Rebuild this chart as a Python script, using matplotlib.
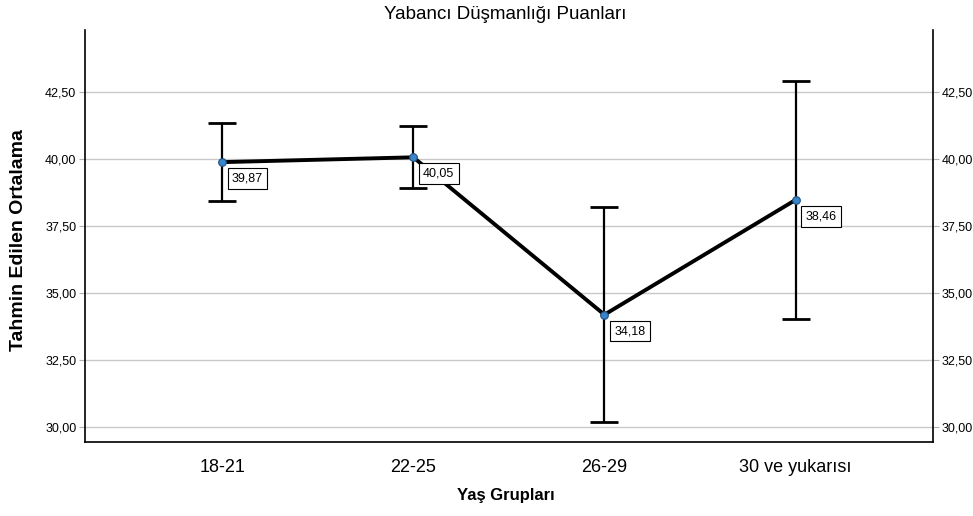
import numpy as np
import matplotlib
matplotlib.use('Agg')
import matplotlib.pyplot as plt
from matplotlib.ticker import FuncFormatter

# Estimated marginal means with 95% CI per age group
groups = ['18-21', '22-25', '26-29', '30 ve yukarısı']
means = [39.87, 40.05, 34.18, 38.46]
ci_low = [38.41, 38.90, 30.17, 34.03]
ci_high = [41.33, 41.20, 38.19, 42.89]
yticks = [30.0, 32.5, 35.0, 37.5, 40.0, 42.5]

plt.rcParams['font.family'] = ['Liberation Sans', 'DejaVu Sans']

fig = plt.figure(figsize=(9.73, 5.16), dpi=100)
ax = fig.add_axes([0.087, 0.1434, 0.872, 0.7985])

x = np.arange(len(groups))
means = np.array(means)
yerr = np.array([means - np.array(ci_low), np.array(ci_high) - means])

ax.errorbar(x, means, yerr=yerr, fmt='none', ecolor='black', elinewidth=1.6,
            capsize=10, capthick=2.0, zorder=3)
ax.plot(x, means, color='black', linewidth=2.8, zorder=4)
ax.plot(x, means, 'o', markersize=5.5, markerfacecolor='#3a86c8',
        markeredgecolor='#1d4f80', markeredgewidth=0.8, zorder=5)

for xi, m in zip(x, means):
    ax.annotate(f'{m:.2f}'.replace('.', ','), (xi, m), xytext=(7, -7.5),
                textcoords='offset points', ha='left', va='top', fontsize=9,
                bbox=dict(boxstyle='square,pad=0.35', fc='white', ec='black', lw=0.8),
                zorder=6)

ax.set_xlim(-0.72, 3.72)
ax.set_ylim(29.43, 44.8)
ax.set_yticks(yticks)
fmt = FuncFormatter(lambda v, p: f'{v:.2f}'.replace('.', ','))
ax.yaxis.set_major_formatter(fmt)
ax.set_xticks(x)
ax.set_xticklabels(groups, fontsize=13)
ax.tick_params(axis='x', length=0, pad=12)
ax.tick_params(axis='y', length=4, color='#b0b0b0', labelsize=9, pad=2,
               left=True, right=True, labelleft=True, labelright=True)
ax.grid(axis='y', color='#c8c8c8', linewidth=1)
ax.set_axisbelow(True)

ax.spines['top'].set_visible(False)
for s in ['left', 'right', 'bottom']:
    ax.spines[s].set_linewidth(1.2)
    ax.spines[s].set_color('black')

fig.text(0.519, 0.972, 'Yabancı Düşmanlığı Puanları', ha='center', va='center', fontsize=13.5)
fig.text(0.019, 0.535, 'Tahmin Edilen Ortalama', ha='center', va='center',
         rotation=90, fontsize=14, fontweight='bold')
fig.text(0.52, 0.04, 'Yaş Grupları', ha='center', va='center', fontsize=12, fontweight='bold')

fig.savefig('out.png', dpi=100)
